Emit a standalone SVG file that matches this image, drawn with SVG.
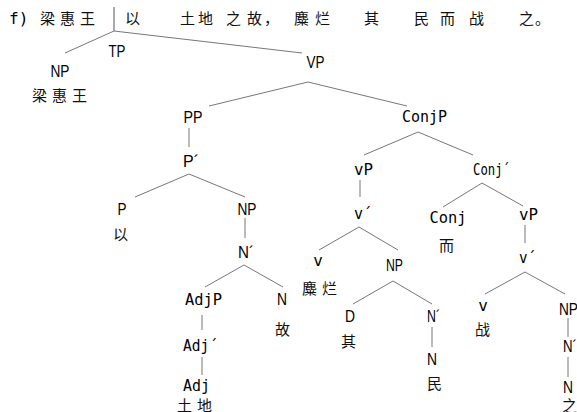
<svg xmlns="http://www.w3.org/2000/svg" width="577" height="412" viewBox="0 0 577 412">
  <style>
    .s { font-family: "Liberation Sans Narrow", "Liberation Sans", Arial, sans-serif; font-size: 17px; fill: #000; }
    .m { font-family: "DejaVu Sans Mono", "Liberation Mono", monospace; font-size: 16px; fill: #000; }
    .c { font-family: "Noto Sans CJK SC", "Noto Sans", sans-serif; font-size: 15px; fill: #111; }
    .mid { text-anchor: middle; }
    .edge { stroke: #777; stroke-width: 1; fill: none; }
  </style>

  <!-- sentence line -->
  <g id="sentence">
    <text class="m" x="9" y="24">f)</text>
    <text class="c" x="40" y="24" letter-spacing="5">梁惠王</text>
    <line x1="114" y1="7" x2="114" y2="31" stroke="#555" stroke-width="1"/>
    <text class="c" x="125" y="24">以</text>
    <text class="c" x="180" y="24" letter-spacing="3">土地</text>
    <text class="c" x="226" y="24">之</text>
    <text class="c" x="247" y="24" letter-spacing="2">故，</text>
    <text class="c" x="294" y="24" letter-spacing="6">麋烂</text>
    <text class="c" x="364" y="24">其</text>
    <text class="c" x="414" y="24">民</text>
    <text class="c" x="440" y="24">而</text>
    <text class="c" x="469" y="24">战</text>
    <text class="c" x="519" y="24">之</text>
    <text class="c" x="535" y="24">。</text>
  </g>

  <!-- connectors -->
  <g id="connectors" class="edge">
    <line x1="114" y1="31" x2="65" y2="53"/>
    <line x1="114" y1="31" x2="302" y2="53"/>
    <line x1="308" y1="82" x2="209" y2="106"/>
    <line x1="308" y1="82" x2="407" y2="106"/>
    <line x1="189" y1="128" x2="189" y2="147"/>
    <line x1="189" y1="174" x2="135" y2="197"/>
    <line x1="189" y1="174" x2="245" y2="197"/>
    <line x1="245" y1="218" x2="245" y2="238"/>
    <line x1="244" y1="265" x2="205" y2="287"/>
    <line x1="244" y1="265" x2="283" y2="287"/>
    <line x1="202" y1="315" x2="202" y2="330"/>
    <line x1="202" y1="357" x2="202" y2="375"/>
    <line x1="418" y1="132" x2="364" y2="155"/>
    <line x1="418" y1="132" x2="473" y2="155"/>
    <line x1="360" y1="180" x2="360" y2="197"/>
    <line x1="359" y1="227" x2="319" y2="250"/>
    <line x1="359" y1="227" x2="398" y2="250"/>
    <line x1="482" y1="183" x2="443" y2="207"/>
    <line x1="482" y1="183" x2="523" y2="206"/>
    <line x1="525" y1="225" x2="525" y2="243"/>
    <line x1="393" y1="281" x2="353" y2="304"/>
    <line x1="393" y1="281" x2="432" y2="304"/>
    <line x1="432" y1="327" x2="432" y2="347"/>
    <line x1="525" y1="272" x2="485" y2="294"/>
    <line x1="525" y1="272" x2="565" y2="294"/>
    <line x1="568" y1="318" x2="568" y2="337"/>
    <line x1="568" y1="357" x2="568" y2="377"/>
  </g>

  <!-- nodes -->
  <g id="TP"><text class="s mid" x="117" y="57" textLength="17" lengthAdjust="spacingAndGlyphs">TP</text></g>
  <g id="NP-subject">
    <text class="s mid" x="60" y="77" textLength="19" lengthAdjust="spacingAndGlyphs">NP</text>
    <text class="c" x="32" y="101" letter-spacing="5">梁惠王</text>
  </g>
  <g id="VP"><text class="s mid" x="315.5" y="68" textLength="18" lengthAdjust="spacingAndGlyphs">VP</text></g>
  <g id="PP"><text class="s mid" x="193" y="123" textLength="19" lengthAdjust="spacingAndGlyphs">PP</text></g>
  <g id="P-bar"><text class="s" x="183" y="167" textLength="16" lengthAdjust="spacingAndGlyphs">P´</text></g>
  <g id="P">
    <text class="s mid" x="122" y="215" textLength="9" lengthAdjust="spacingAndGlyphs">P</text>
    <text class="c" x="113" y="240">以</text>
  </g>
  <g id="NP-object"><text class="s mid" x="247" y="215" textLength="19" lengthAdjust="spacingAndGlyphs">NP</text></g>
  <g id="N-bar"><text class="s" x="238" y="258" textLength="16" lengthAdjust="spacingAndGlyphs">N´</text></g>
  <g id="AdjP"><text class="m mid" x="203.5" y="305" textLength="37" lengthAdjust="spacingAndGlyphs">AdjP</text></g>
  <g id="Adj-bar"><text class="m" x="183" y="351" textLength="35" lengthAdjust="spacingAndGlyphs">Adj´</text></g>
  <g id="Adj">
    <text class="m mid" x="196.5" y="391" textLength="27" lengthAdjust="spacingAndGlyphs">Adj</text>
    <text class="c" x="177" y="411" letter-spacing="5">土地</text>
  </g>
  <g id="N-gu">
    <text class="s mid" x="282" y="305" textLength="10" lengthAdjust="spacingAndGlyphs">N</text>
    <text class="c" x="275" y="335">故</text>
  </g>
  <g id="ConjP"><text class="m mid" x="424.5" y="122" textLength="45" lengthAdjust="spacingAndGlyphs">ConjP</text></g>
  <g id="vP-1"><text class="m mid" x="363.5" y="175" textLength="19" lengthAdjust="spacingAndGlyphs">vP</text></g>
  <g id="v-bar-1"><text class="m" x="354" y="219" textLength="18" lengthAdjust="spacingAndGlyphs">v´</text></g>
  <g id="v-1">
    <text class="m mid" x="318" y="266">v</text>
    <text class="c" x="302" y="294" letter-spacing="5">麋烂</text>
  </g>
  <g id="NP-min">
    <text class="s mid" x="394.5" y="271" textLength="17" lengthAdjust="spacingAndGlyphs">NP</text>
  </g>
  <g id="D">
    <text class="s mid" x="350" y="322" textLength="10" lengthAdjust="spacingAndGlyphs">D</text>
    <text class="c" x="341" y="347">其</text>
  </g>
  <g id="N-bar-min"><text class="s" x="427" y="322" textLength="13" lengthAdjust="spacingAndGlyphs">N´</text></g>
  <g id="N-min">
    <text class="s mid" x="432" y="365" textLength="10" lengthAdjust="spacingAndGlyphs">N</text>
    <text class="c" x="427" y="389">民</text>
  </g>
  <g id="Conj-bar"><text class="m" x="473" y="175" textLength="37" lengthAdjust="spacingAndGlyphs">Conj´</text></g>
  <g id="Conj">
    <text class="m mid" x="448" y="223" textLength="37" lengthAdjust="spacingAndGlyphs">Conj</text>
    <text class="c" x="439" y="251">而</text>
  </g>
  <g id="vP-2"><text class="m mid" x="528.5" y="220" textLength="19" lengthAdjust="spacingAndGlyphs">vP</text></g>
  <g id="v-bar-2"><text class="m" x="519" y="263" textLength="17" lengthAdjust="spacingAndGlyphs">v´</text></g>
  <g id="v-2">
    <text class="m mid" x="483" y="311">v</text>
    <text class="c" x="475" y="335">战</text>
  </g>
  <g id="NP-zhi"><text class="s" x="559" y="315" textLength="19" lengthAdjust="spacingAndGlyphs">NP</text></g>
  <g id="N-bar-zhi"><text class="s" x="563" y="352" textLength="14" lengthAdjust="spacingAndGlyphs">N´</text></g>
  <g id="N-zhi">
    <text class="s mid" x="568" y="393" textLength="10" lengthAdjust="spacingAndGlyphs">N</text>
    <text class="c" x="562" y="411">之</text>
  </g>
</svg>
